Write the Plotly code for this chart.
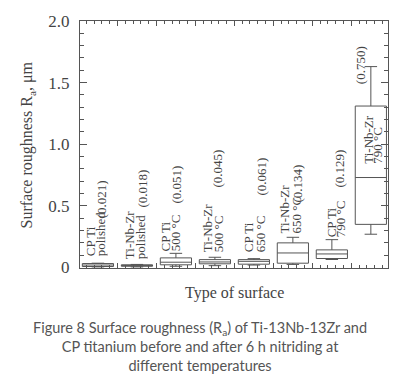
import plotly.graph_objects as go

# ---- data ----
surfaces_line1 = ["CP Ti", "Ti-Nb-Zr", "CP Ti", "Ti-Nb-Zr", "CP Ti", "Ti-Nb-Zr", "CP Ti", "Ti-Nb-Zr"]
surfaces_line2 = ["polished", "polished", "500 °C", "500 °C", "650 °C", "650 °C", "790 °C", "790 °C"]
mean_ra = [0.021, 0.018, 0.051, 0.045, 0.061, 0.134, 0.129, 0.750]
lower_fence = [0.005, 0.005, 0.010, 0.015, 0.020, 0.025, 0.065, 0.27]
q1 = [0.008, 0.010, 0.022, 0.030, 0.027, 0.035, 0.073, 0.35]
median = [0.020, 0.017, 0.043, 0.045, 0.050, 0.118, 0.110, 0.73]
q3 = [0.032, 0.022, 0.078, 0.064, 0.064, 0.200, 0.143, 1.31]
upper_fence = [0.035, 0.025, 0.115, 0.083, 0.072, 0.245, 0.226, 1.63]

# ---- label layout (annotation placement, data units; y = where text starts) ----
name_dx1 = [-0.205, -0.205, -0.28, -0.205, -0.13, -0.205, 0.0, -0.05]
name_dx2 = [0.051, 0.077, -0.026, 0.077, 0.154, 0.103, 0.23, 0.18]
name_y = [0.093, 0.069, 0.133, 0.125, 0.125, 0.278, 0.246, 0.843]
val_dx = [0.077, 0.154, 0.026, 0.077, 0.205, 0.128, 0.205, -0.282]
val_y = [0.40, 0.488, 0.52, 0.649, 0.585, 0.528, 0.649, 1.488]

pos = list(range(len(mean_ra)))
ink = "#555555"
serif = "Liberation Serif, Times New Roman, serif"

H, T, B = 386, 19, 118
Y_RANGE = [-0.004, 2.0]
px_per_unit = (H - T - B) / (Y_RANGE[1] - Y_RANGE[0])
NAME_W, VAL_W = 70, 50

fig = go.Figure()
fig.add_trace(go.Box(
    x=pos, q1=q1, median=median, q3=q3,
    lowerfence=lower_fence, upperfence=upper_fence,
    width=0.8, whiskerwidth=0.4, boxpoints=False,
    line=dict(color=ink, width=1), fillcolor="rgba(0,0,0,0)",
    showlegend=False, hoverinfo="skip",
))

lab_font = dict(family=serif, size=13, color="#444")
ann = []
for i in pos:
    ny = name_y[i] + NAME_W / 2 / px_per_unit
    vy = val_y[i] + VAL_W / 2 / px_per_unit
    for dx, txt in ((name_dx1[i], surfaces_line1[i]), (name_dx2[i], surfaces_line2[i])):
        ann.append(dict(x=i + dx, y=ny, text=txt, textangle=-90, width=NAME_W, align="left",
                        xanchor="center", yanchor="middle", showarrow=False, font=lab_font))
    ann.append(dict(x=i + val_dx[i], y=vy, text="(%.3f)" % mean_ra[i], textangle=-90,
                    width=VAL_W, align="left",
                    xanchor="center", yanchor="middle", showarrow=False, font=lab_font))

ann.append(dict(xref="paper", yref="paper", x=-0.169, y=0.5, text="Surface roughness R<sub>a</sub>, μm",
                textangle=-90, showarrow=False, xanchor="center", yanchor="middle",
                font=dict(family=serif, size=16, color="#444")))
ann.append(dict(xref="paper", yref="paper", x=0.5, y=-0.1, text="Type of surface",
                showarrow=False, xanchor="center", yanchor="middle",
                font=dict(family=serif, size=16, color="#444")))
ann.append(dict(xref="paper", yref="paper", x=0.39, y=-0.2,
                text="Figure 8 Surface roughness (R<sub>a</sub>) of Ti-13Nb-13Zr and<br>"
                     "CP titanium before and after 6 h nitriding at<br>different temperatures",
                showarrow=False, xanchor="center", yanchor="top", align="center",
                font=dict(family="Lato, sans-serif", size=14.5, color="#555")))

fig.update_layout(
    width=403, height=H,
    margin=dict(l=80, r=15, t=T, b=B),
    paper_bgcolor="white", plot_bgcolor="white",
    annotations=ann,
    xaxis=dict(range=[-0.46, 7.44], showgrid=False, zeroline=False,
               showline=True, linecolor=ink, linewidth=1, mirror="ticks",
               ticks="inside", tickvals=[0.5 + k for k in range(7)], ticklen=5,
               tickcolor=ink, showticklabels=False,
               minor=dict(ticks="inside", dtick=0.2, tick0=0.5, ticklen=3, tickcolor=ink)),
    yaxis=dict(range=Y_RANGE, showgrid=False, zeroline=False,
               showline=True, linecolor=ink, linewidth=1, mirror="ticks",
               ticks="inside", tickvals=[0, 0.5, 1.0, 1.5, 2.0],
               ticktext=["0", "0.5", "1.0", "1.5", "2.0"], ticklen=7, tickcolor=ink,
               tickfont=dict(family=serif, size=17, color="#444"),
               ticklabelstandoff=6,
               minor=dict(ticks="inside", dtick=0.1, ticklen=4, tickcolor=ink)),
)

fig.write_html("out.html", config={"displayModeBar": False},
               post_script="document.body.style.margin='0';")
